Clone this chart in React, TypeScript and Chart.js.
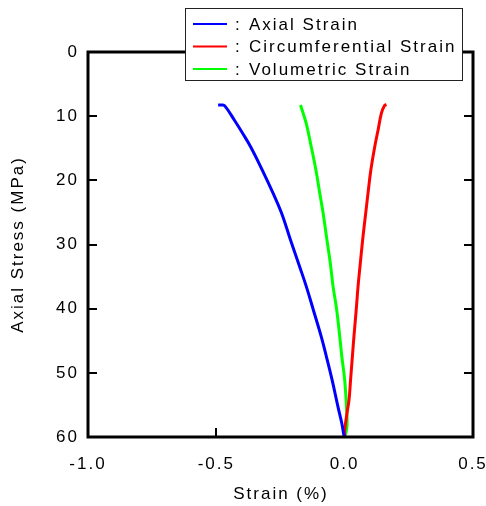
import React, { useEffect, useRef } from "react";
import { Chart, registerables } from "chart.js";

Chart.register(...registerables);

// Axial stress (MPa) and matching strain (%) for each series
const axialStress = [60, 59.7, 57.9, 55.3, 51.1, 47.5, 44.4, 40.2, 36.6, 33.5, 29.3, 25.1, 22.0, 18.4, 14.8, 12.7, 10.6, 8.4, 8.26, 8.26];
const axialStrain = [0, -0.003, -0.011, -0.026, -0.049, -0.071, -0.091, -0.122, -0.149, -0.175, -0.211, -0.246, -0.279, -0.321, -0.366, -0.397, -0.430, -0.467, -0.478, -0.493];

const circStress = [60, 58.9, 56.3, 54.2, 51.1, 47.5, 44.4, 40.2, 36.6, 32.9, 29.3, 25.1, 22.0, 18.4, 14.8, 12.2, 9.55, 8.3, 8.2];
const circStrain = [0, 0.0, 0.009, 0.017, 0.023, 0.030, 0.036, 0.045, 0.052, 0.061, 0.070, 0.082, 0.091, 0.102, 0.117, 0.130, 0.143, 0.156, 0.163];

const volStress = [60, 58.4, 55.3, 51.1, 47.5, 44.4, 40.2, 36.6, 32.9, 29.3, 25.1, 22.0, 18.4, 14.8, 11.1, 8.26];
const volStrain = [0, 0.009, 0.007, 0.0, -0.011, -0.019, -0.031, -0.045, -0.056, -0.069, -0.084, -0.097, -0.112, -0.130, -0.150, -0.172];

const seriesNames = ["Axial Strain", "Circumferential Strain", "Volumetric Strain"];
const seriesColors = ["#0000ff", "#ff0000", "#00ff00"];

const xTicks = [-1.0, -0.5, 0.0, 0.5];
const yTicks = [0, 10, 20, 30, 40, 50, 60];

const xTitle = "Strain (%)";
const yTitle = "Axial Stress (MPa)";

const FONT_FAMILY = '"Liberation Sans", Arial, Helvetica, sans-serif';
const FONT_SIZE = 17;
const FONT = `${FONT_SIZE}px ${FONT_FAMILY}`;
const SPACING = "2px";

const toPoints = (xs: number[], ys: number[]) => xs.map((x, i) => ({ x, y: ys[i] }));

const framePlugin = {
  id: "frame",
  beforeUpdate(chart: any) {
    chart.ctx.letterSpacing = SPACING;
  },
  beforeDraw(chart: any) {
    chart.ctx.letterSpacing = SPACING;
  },
  beforeDatasetsDraw(chart: any) {
    const { ctx, chartArea, scales } = chart;
    const xs = scales.x;
    const ys = scales.y;
    ctx.save();
    ctx.strokeStyle = "#000";
    ctx.lineWidth = 2;
    ctx.beginPath();
    yTicks.forEach((v) => {
      const py = Math.round(ys.getPixelForValue(v));
      ctx.moveTo(chartArea.left, py);
      ctx.lineTo(chartArea.left + 9, py);
      ctx.moveTo(chartArea.right, py);
      ctx.lineTo(chartArea.right - 9, py);
    });
    xTicks.forEach((v) => {
      const px = Math.round(xs.getPixelForValue(v));
      ctx.moveTo(px, chartArea.bottom);
      ctx.lineTo(px, chartArea.bottom - 9);
    });
    ctx.stroke();
    ctx.restore();
  },
  afterDatasetsDraw(chart: any) {
    const { ctx, chartArea } = chart;
    ctx.save();
    ctx.strokeStyle = "#000";
    ctx.lineWidth = 3;
    ctx.strokeRect(
      chartArea.left,
      chartArea.top,
      chartArea.right - chartArea.left,
      chartArea.bottom - chartArea.top
    );
    ctx.restore();
  },
  afterDraw(chart: any) {
    const { ctx, chartArea } = chart;
    ctx.save();
    ctx.letterSpacing = SPACING;
    ctx.fillStyle = "#000";
    ctx.font = FONT;

    // x title
    ctx.textAlign = "center";
    ctx.textBaseline = "alphabetic";
    ctx.fillText(xTitle, 281, 499);

    // y title
    ctx.save();
    ctx.translate(23, (chartArea.top + chartArea.bottom) / 2);
    ctx.rotate(-Math.PI / 2);
    ctx.textAlign = "center";
    ctx.textBaseline = "alphabetic";
    ctx.fillText(yTitle, 0, 0);
    ctx.restore();

    // legend box
    const bx = 185.5, by = 8.5, bw = 277, bh = 72;
    ctx.fillStyle = "#fff";
    ctx.fillRect(bx, by, bw, bh);
    ctx.strokeStyle = "#222";
    ctx.lineWidth = 1;
    ctx.strokeRect(bx, by, bw, bh);

    const rowY = [24, 46.5, 69];
    seriesNames.forEach((name, i) => {
      const y = rowY[i];
      ctx.strokeStyle = seriesColors[i];
      ctx.lineWidth = 2;
      ctx.beginPath();
      ctx.moveTo(193, y);
      ctx.lineTo(227, y);
      ctx.stroke();
      ctx.fillStyle = "#000";
      ctx.textAlign = "left";
      ctx.textBaseline = "middle";
      ctx.fillText(":", 235, y + 1);
      ctx.fillText(name, 249, y + 1);
    });
    ctx.restore();
  },
};

export default function App() {
  const canvasRef = useRef<HTMLCanvasElement | null>(null);

  useEffect(() => {
    const canvas = canvasRef.current;
    if (!canvas) return;
    const chart = new Chart(canvas, {
      type: "scatter",
      data: {
        datasets: [
          { label: seriesNames[0], data: toPoints(axialStrain, axialStress), borderColor: seriesColors[0] },
          { label: seriesNames[1], data: toPoints(circStrain, circStress), borderColor: seriesColors[1] },
          { label: seriesNames[2], data: toPoints(volStrain, volStress), borderColor: seriesColors[2] },
        ].map((d) => ({
          ...d,
          showLine: true,
          borderWidth: 3,
          pointRadius: 0,
          tension: 0.4,
          fill: false,
        })),
      },
      options: {
        responsive: false,
        animation: false,
        devicePixelRatio: 1,
        layout: { padding: { top: 52, right: 13, left: 0, bottom: 0 } },
        plugins: {
          legend: { display: false },
          tooltip: { enabled: false },
          title: { display: false },
        },
        scales: {
          x: {
            type: "linear",
            min: -1.0,
            max: 0.5,
            afterFit: (s: any) => {
              s.height = 69;
              s.paddingLeft = 0;
              s.paddingRight = 0;
            },
            afterBuildTicks: (s: any) => {
              s.ticks = xTicks.map((v) => ({ value: v }));
            },
            grid: { display: false, drawTicks: false },
            border: { display: false },
            ticks: {
              color: "#000",
              font: { family: FONT_FAMILY, size: FONT_SIZE },
              padding: 17,
              maxRotation: 0,
              callback: (v: any) => Number(v).toFixed(1),
            },
          },
          y: {
            type: "linear",
            min: 0,
            max: 60,
            reverse: true,
            afterFit: (s: any) => {
              s.width = 88;
              s.paddingTop = 0;
              s.paddingBottom = 0;
            },
            afterBuildTicks: (s: any) => {
              s.ticks = yTicks.map((v) => ({ value: v }));
            },
            grid: { display: false, drawTicks: false },
            border: { display: false },
            ticks: {
              color: "#000",
              font: { family: FONT_FAMILY, size: FONT_SIZE },
              padding: 9,
              callback: (v: any) => String(v),
            },
          },
        },
      },
      plugins: [framePlugin],
    });
    return () => chart.destroy();
  }, []);

  return (
    <div style={{ position: "absolute", left: 0, top: 0, width: 486, height: 506, background: "#fff" }}>
      <canvas ref={canvasRef} width={486} height={506} style={{ width: 486, height: 506, display: "block" }} />
    </div>
  );
}
